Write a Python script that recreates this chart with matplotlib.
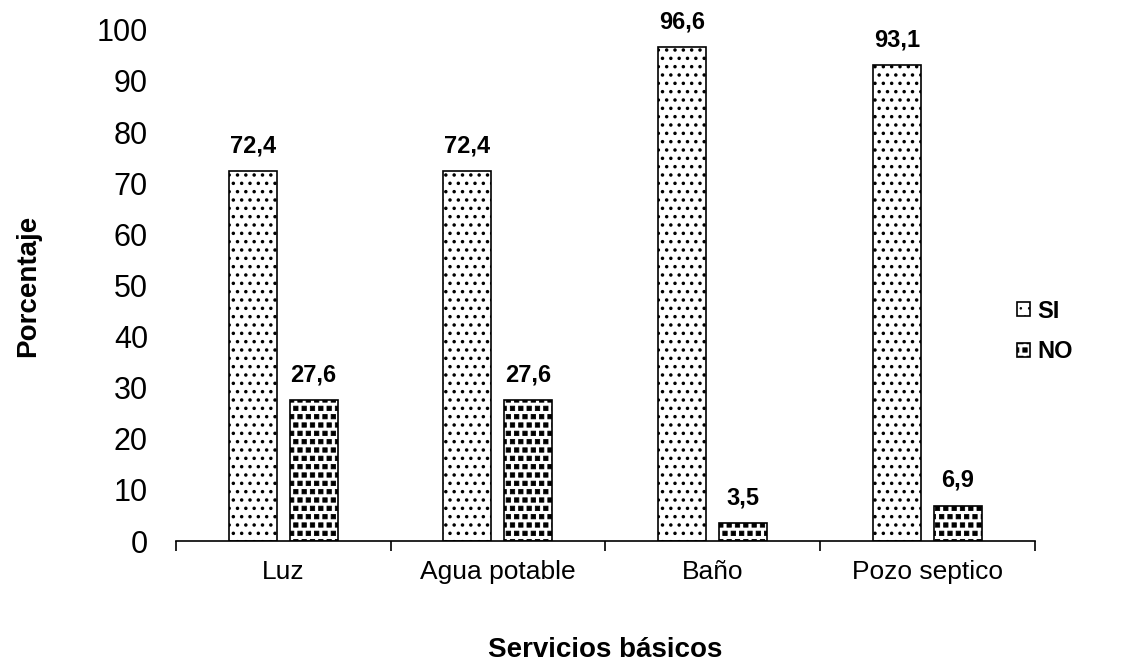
import matplotlib
matplotlib.use("Agg")
import matplotlib.pyplot as plt
import matplotlib.hatch as mhatch
from matplotlib.path import Path
import numpy as np

categories = ["Luz", "Agua potable", "Baño", "Pozo septico"]
si_values = [72.4, 72.4, 96.6, 93.1]
no_values = [27.6, 27.6, 3.5, 6.9]
y_ticks = [0, 10, 20, 30, 40, 50, 60, 70, 80, 90, 100]


class SquareDots(mhatch.Shapes):
    """Staggered grid of small filled squares, selected with the '*' hatch char."""
    size = 0.26
    filled = True

    def __init__(self, hatch, density):
        self.num_rows = hatch.count('*') * density
        self.shape_vertices = np.array([[-1.0, -1.0], [1.0, -1.0], [1.0, 1.0],
                                        [-1.0, 1.0], [-1.0, -1.0]])
        self.shape_codes = np.array([Path.MOVETO, Path.LINETO, Path.LINETO,
                                     Path.LINETO, Path.CLOSEPOLY],
                                    dtype=Path.code_type)
        super().__init__(hatch, density)


mhatch._hatch_types = [SquareDots if t is mhatch.Stars else t
                       for t in mhatch._hatch_types]

plt.rcParams["font.family"] = ["Liberation Sans", "DejaVu Sans"]

fig = plt.figure(figsize=(11.34, 6.63), dpi=100)
ax = fig.add_axes([0.155, 0.184, 0.7575, 0.771])

x = np.arange(len(categories))
width = 0.223
offset = 0.142

SI_HATCH_LW = 1.3
NO_HATCH_LW = 0.6

plt.rcParams["hatch.linewidth"] = SI_HATCH_LW
bars_si = ax.bar(x - offset, si_values, width, color="white", edgecolor="black",
                 linewidth=1.2, hatch="..", label="SI")
plt.rcParams["hatch.linewidth"] = NO_HATCH_LW
bars_no = ax.bar(x + offset, no_values, width, color="white", edgecolor="black",
                 linewidth=1.2, hatch="**", label="NO")
for b in bars_si:
    if hasattr(b, "set_hatch_linewidth"):
        b.set_hatch_linewidth(SI_HATCH_LW)
for b in bars_no:
    if hasattr(b, "set_hatch_linewidth"):
        b.set_hatch_linewidth(NO_HATCH_LW)

def fmt(v):
    return f"{v:.1f}".replace(".", ",")

for bars, vals in ((bars_si, si_values), (bars_no, no_values)):
    for b, v in zip(bars, vals):
        ax.annotate(fmt(v), (b.get_x() + b.get_width() / 2, v),
                    xytext=(0, 10), textcoords="offset points",
                    ha="center", va="bottom", fontsize=17, fontweight="bold")

ax.set_xlim(-0.5, len(categories) - 0.5)
ax.set_ylim(0, 100)
ax.set_yticks(y_ticks)
ax.tick_params(axis="y", length=0, labelsize=22, pad=20)
ax.set_xticks(x)
ax.set_xticklabels(categories)
ax.tick_params(axis="x", length=0, labelsize=19, pad=14)

# category separators hanging below the baseline
ax.set_xticks(np.arange(-0.5, len(categories)), minor=True)
ax.tick_params(axis="x", which="minor", length=7, width=1.2, direction="out")

for s in ("top", "right", "left"):
    ax.spines[s].set_visible(False)
ax.spines["bottom"].set_linewidth(1.2)

ax.set_xlabel("Servicios básicos", fontsize=20, fontweight="bold", labelpad=38)
ax.set_ylabel("Porcentaje", fontsize=20, fontweight="bold", labelpad=40)

leg = ax.legend(loc="center left", bbox_to_anchor=(0.955, 0.41), frameon=False,
                handlelength=0.55, handleheight=0.55, handletextpad=0.3,
                labelspacing=0.75, prop={"size": 17, "weight": "bold"})

fig.savefig("out.png", dpi=100, facecolor="white")
